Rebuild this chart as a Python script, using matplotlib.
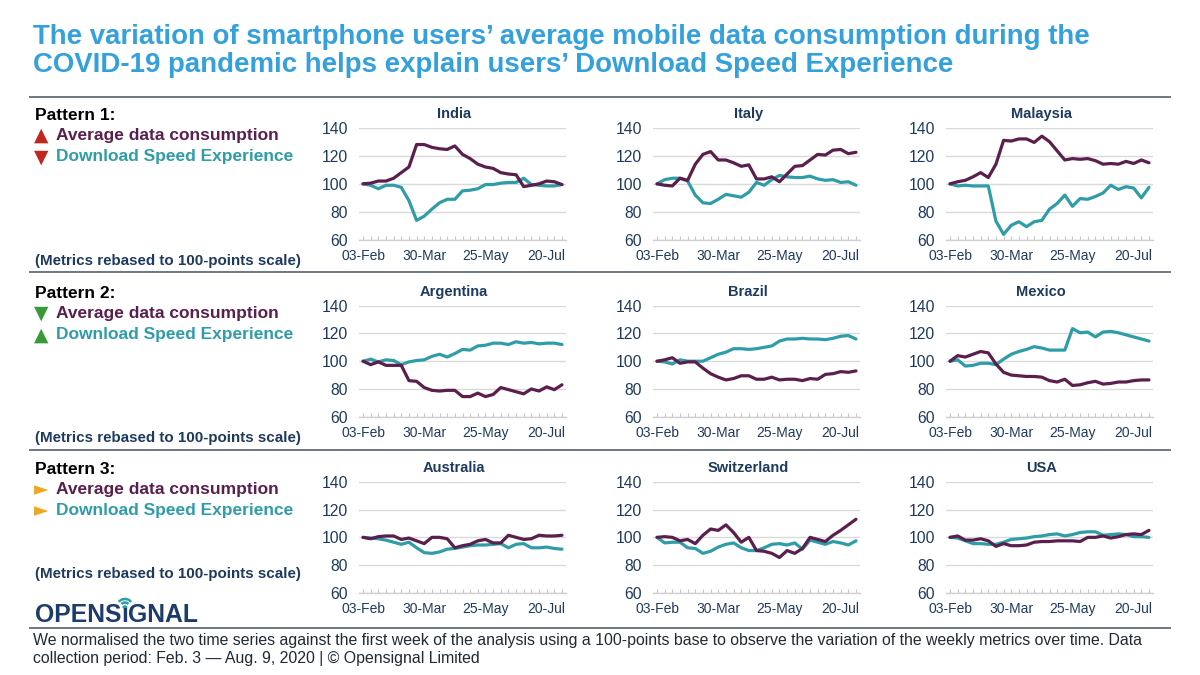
import numpy as np
import pandas as pd
import matplotlib
matplotlib.use("Agg")
import matplotlib.pyplot as plt
from matplotlib.lines import Line2D
from matplotlib.patches import Arc, Circle

plt.rcParams['font.family'] = ['Liberation Sans', 'DejaVu Sans']

# ---------------- data ----------------
weeks = pd.date_range("2020-02-03", periods=27, freq="7D")
tick_positions = [0, 8, 16, 24]
tick_labels = ["03-Feb", "30-Mar", "25-May", "20-Jul"]
y_ticks = [60, 80, 100, 120, 140]

countries = ["India", "Italy", "Malaysia",
             "Argentina", "Brazil", "Mexico",
             "Australia", "Switzerland", "USA"]

india_consumption = [100, 100.5, 102, 102, 104, 108, 112, 128, 128, 126, 125, 124.5, 127, 121, 118, 114,
                     112, 111, 108, 107, 106.5, 98, 99, 100, 102, 101.5, 99.5]
india_speed = [100, 99, 96.5, 99, 99, 97.5, 88, 74, 77, 82, 86.5, 89, 89, 95, 95.5, 96.5,
               99.5, 99.5, 100.5, 101, 101, 104, 99.5, 99, 98.5, 98.5, 99.5]

italy_consumption = [100, 99, 98.5, 104, 102.5, 114, 121, 123, 117, 117, 115, 112.5, 113.5, 103.5, 103.5, 105,
                     101.5, 107, 112.5, 113, 117, 121, 120.5, 124, 124.5, 121.5, 122.5]
italy_speed = [100, 103, 104, 104, 102, 92, 86.5, 86, 89, 92.5, 91.5, 90.5, 94, 101, 99, 103,
               106, 105, 104.5, 104.5, 105.5, 103.5, 102.5, 103, 101, 101.5, 99]

malaysia_consumption = [100, 101.5, 102.5, 105, 108, 104.5, 114, 131, 130.5, 132, 132, 129.5, 134, 130, 123.5, 117,
                        118, 117.5, 118, 116.5, 114, 114.5, 114, 116, 114.5, 117, 115]
malaysia_speed = [100, 98.5, 99, 98.5, 98.5, 98.5, 73.5, 64, 70.5, 73, 69.5, 73, 74, 82, 86, 92,
                  84, 89.5, 89, 91, 93.5, 99, 96, 98, 97, 90, 97.5]

argentina_consumption = [100, 97.5, 99.5, 97, 97, 97, 86, 85.5, 81, 79, 78.5, 79, 79, 74.5, 74.5, 77,
                         74.5, 76, 81, 79.5, 78, 76.5, 80, 78.5, 81.5, 79.5, 83]
argentina_speed = [100, 101.5, 99.5, 101, 100.5, 97.5, 99.5, 100.5, 101, 103.5, 105, 103, 105.5, 108.5, 108, 111,
                   111.5, 113, 113, 112, 114, 113, 113.5, 112.5, 113, 113, 112]

brazil_consumption = [100, 101, 102.5, 98.5, 99.5, 99.5, 95, 91, 88.5, 86.5, 87.5, 89.5, 89.5, 87, 87, 88.5,
                      86.5, 87, 87, 86, 87.5, 87, 90.5, 91, 92.5, 92, 93]
brazil_speed = [100, 99.5, 98, 101, 100, 100, 100, 102.5, 105, 106.5, 109, 109, 108.5, 109, 110, 111,
                114.5, 116, 116, 116.5, 116, 116, 115.5, 116.5, 118, 118.5, 116]

mexico_consumption = [100, 104, 103, 105, 107, 106, 98, 92, 90, 89.5, 89, 89, 88.5, 86, 85, 87,
                      82.5, 83, 84.5, 85.5, 83.5, 84, 85, 85, 86, 86.5, 86.5]
mexico_speed = [100, 101, 96.5, 97, 98.5, 98.5, 97.5, 101.5, 105, 107, 108.5, 110.5, 109.5, 108, 108, 108,
                123.5, 120.5, 121, 117.5, 121, 121.5, 120.5, 119, 117.5, 116, 114.5]

australia_consumption = [100, 99, 100.5, 101, 101, 98.5, 99.5, 97.5, 95.5, 100, 100, 99, 92.5, 94, 95, 97.5,
                         98.5, 96, 96, 101.5, 100, 98.5, 99, 101.5, 101, 101, 101.5]
australia_speed = [100, 99.5, 99, 98, 96.5, 95, 96.5, 92.5, 89, 88.5, 89.5, 91.5, 92, 93, 94, 94.5,
                   94.5, 95, 95.5, 92.5, 95, 95.5, 92.5, 92.5, 93, 92, 91.5]

switzerland_consumption = [100, 100.5, 100, 97.5, 98.5, 95.5, 101.5, 106, 105, 109, 103.5, 96.5, 100, 90.5, 90, 88.5,
                           85.5, 90.5, 88.5, 92, 100, 98.5, 97, 101.5, 105, 109, 113]
switzerland_speed = [100, 96, 96.5, 96.5, 92.5, 92, 88.5, 90, 93, 95, 96, 92.5, 90.5, 90.5, 92.5, 95,
                     95.5, 94.5, 96, 91.5, 98, 96.5, 95, 97, 96, 94.5, 97.5]

usa_consumption = [100, 101, 98, 98, 99, 97.5, 93.5, 95.5, 94, 94, 94.5, 96.5, 97, 97, 97.5, 97.5,
                   97.5, 97, 100, 100, 101, 99.5, 100.5, 102, 102.5, 102, 105]
usa_speed = [100, 99.5, 97.5, 95.5, 95.5, 95, 95, 96.5, 98.5, 99, 99.5, 100.5, 101, 102, 102.5, 101,
             102, 103.5, 104, 104, 101.5, 102, 102.5, 102, 100.5, 100.5, 100]

consumption_series = [india_consumption, italy_consumption, malaysia_consumption,
                      argentina_consumption, brazil_consumption, mexico_consumption,
                      australia_consumption, switzerland_consumption, usa_consumption]
speed_series = [india_speed, italy_speed, malaysia_speed,
                argentina_speed, brazil_speed, mexico_speed,
                australia_speed, switzerland_speed, usa_speed]

pattern_names = ["Pattern 1:", "Pattern 2:", "Pattern 3:"]
series_names = ["Average data consumption", "Download Speed Experience"]
pattern_arrows = [("▲", "▼"), ("▼", "▲"), ("►", "►")]

# ---------------- style ----------------
PURPLE = "#5B1F4D"
TEAL = "#2F9DA8"
NAVY = "#1E3A5F"
BLUE = "#34A0DC"
GRID = "#DADADA"
SEP = "#6E7780"
arrow_colors = ["#C0281E", "#3A9A3A", "#F0A623"]

W, H = 1200, 675
fig = plt.figure(figsize=(12, 6.75), dpi=100)
fig.patch.set_facecolor("white")


def fx(px):
    return px / W


def fy(py):
    return 1 - py / H


# title
fig.text(fx(33), fy(44), "The variation of smartphone users\u2019 average mobile data consumption during the",
         fontsize=19.9, fontweight="bold", color=BLUE, va="baseline")
fig.text(fx(33), fy(72.5), "COVID-19 pandemic helps explain users\u2019 Download Speed Experience",
         fontsize=19.9, fontweight="bold", color=BLUE, va="baseline")

# separators
for yy in [97, 272, 450, 628]:
    fig.add_artist(Line2D([fx(30), fx(1170)], [fy(yy), fy(yy)], color=SEP, lw=1.4))

# axes
col_left = [359.2, 653.2, 946.2]
row_top = [127.7, 305.7, 481.7]
row_bottom = [240, 416.7, 593]
ax_w = 206.6

xs = np.arange(len(weeks))
for i, name in enumerate(countries):
    r, c = divmod(i, 3)
    ax = fig.add_axes([fx(col_left[c]), fy(row_bottom[r]), ax_w / W, (row_bottom[r] - row_top[r]) / H])
    ax.plot(xs, speed_series[i], color=TEAL, lw=2.3, solid_joinstyle="round", solid_capstyle="round", zorder=3)
    ax.plot(xs, consumption_series[i], color=PURPLE, lw=2.3, solid_joinstyle="round", solid_capstyle="round", zorder=4)
    ax.set_xlim(-0.5, len(weeks) - 0.5)
    ax.set_ylim(60, 140)
    ax.set_yticks(y_ticks)
    ax.grid(axis="y", color=GRID, lw=1)
    ax.set_axisbelow(True)
    for s in ["left", "top", "right"]:
        ax.spines[s].set_visible(False)
    ax.spines["bottom"].set_color("#D0D0D0")
    ax.spines["bottom"].set_linewidth(1)
    ax.set_xticks(tick_positions)
    ax.set_xticklabels(tick_labels)
    ax.set_xticks(xs, minor=True)
    ax.tick_params(axis="x", which="both", direction="in", length=3, color="#C8C8C8", width=0.8)
    ax.tick_params(axis="x", which="major", pad=6.5, labelsize=10, labelcolor=NAVY)
    ax.tick_params(axis="y", length=0, pad=8, labelsize=11.3, labelcolor=NAVY)
    ax.set_title(name, fontsize=10.5, fontweight="bold", color=NAVY, pad=7, x=0.46)

# left legends
pattern_y = [115, 293, 469]
metrics_y = [261, 438, 574]
for k in range(3):
    fig.text(fx(35), fy(pattern_y[k]), pattern_names[k], fontsize=12.5, fontweight="bold",
             color="black", va="center")
    for j, (lab, col) in enumerate(zip(series_names, [PURPLE, TEAL])):
        yy = pattern_y[k] + 20.5 + 21.5 * j
        fig.text(fx(34), fy(yy), pattern_arrows[k][j], fontsize=13.5, color=arrow_colors[k], va="center",
                 family=["DejaVu Sans"])
        fig.text(fx(56), fy(yy), lab, fontsize=12.5, fontweight="bold", color=col, va="center")
    fig.text(fx(35), fy(metrics_y[k]), "(Metrics rebased to 100-points scale)", fontsize=10.9,
             fontweight="bold", color=NAVY, va="center")

# logo
LOGO = "#1D3C6B"
renderer = fig.canvas.get_renderer()
t1 = fig.text(fx(35), fy(622), "OPENS", fontsize=17.8, fontweight="bold", color=LOGO, va="baseline")
bb1 = t1.get_window_extent(renderer)
x_i = bb1.x1 / W
t2 = fig.text(x_i, fy(622), "\u0131", fontsize=17.8, fontweight="bold", color=LOGO, va="baseline")
bb2 = t2.get_window_extent(renderer)
fig.text(bb2.x1 / W, fy(622), "GNAL", fontsize=17.8, fontweight="bold", color=LOGO, va="baseline")
cx = (bb2.x0 + bb2.x1) / 2
cy = 675 - 607
fig.add_artist(Circle((cx / W, cy / H), 1.8 / W, color=TEAL, transform=fig.transFigure))
for rad in [4.5, 8]:
    fig.add_artist(Arc((cx, cy), 2 * rad, 2 * rad, theta1=40, theta2=140, color=TEAL, lw=1.8,
                       transform=None))

# footer
fig.text(fx(33), fy(640), "We normalised the two time series against the first week of the analysis using a "
         "100-points base to observe the variation of the weekly metrics over time. Data",
         fontsize=11.45, color="#1F2A36", va="center")
fig.text(fx(33), fy(659), "collection period: Feb. 3 \u2014 Aug. 9, 2020 | \u00a9 Opensignal Limited",
         fontsize=11.45, color="#1F2A36", va="center")

fig.savefig("out.png", dpi=100, facecolor="white")
